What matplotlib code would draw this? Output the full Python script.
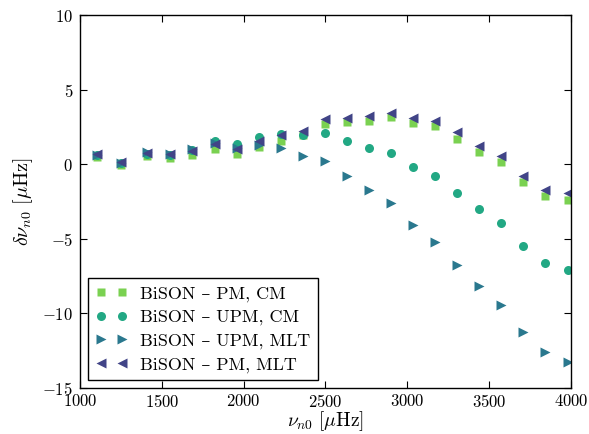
import matplotlib
matplotlib.use("Agg")
import matplotlib.pyplot as plt

plt.rcParams['font.family'] = ['cmr10', 'DejaVu Serif']
plt.rcParams['mathtext.fontset'] = 'cm'
plt.rcParams['axes.formatter.use_mathtext'] = True
plt.rcParams['axes.unicode_minus'] = True

# radial-mode frequencies (muHz)
freq = [1103.1, 1250.6, 1407.5, 1547.0, 1686.6, 1822.2, 1957.5, 2093.5, 2228.8,
        2362.8, 2496.2, 2629.7, 2764.2, 2899.0, 3033.8, 3168.6, 3303.6, 3439.0,
        3574.0, 3708.7, 3844.3, 3979.3]

pm_cm = [0.50, -0.05, 0.55, 0.40, 0.60, 1.00, 0.69, 1.14, 1.58, 1.95, 2.70, 2.81,
         2.92, 3.14, 2.76, 2.54, 1.69, 0.84, 0.13, -1.16, -2.10, -2.39]
upm_cm = [0.60, 0.05, 0.70, 0.60, 0.95, 1.58, 1.33, 1.80, 2.03, 1.96, 2.09, 1.54,
          1.09, 0.76, -0.20, -0.80, -1.92, -3.03, -3.95, -5.49, -6.60, -7.09]
upm_mlt = [0.65, 0.10, 0.80, 0.70, 1.00, 1.45, 1.10, 1.29, 1.07, 0.54, 0.24, -0.80,
           -1.76, -2.63, -4.06, -5.22, -6.74, -8.16, -9.41, -11.24, -12.62, -13.29]
pm_mlt = [0.67, 0.13, 0.76, 0.67, 0.87, 1.36, 1.02, 1.55, 1.98, 2.25, 3.03, 3.09,
          3.25, 3.45, 3.10, 2.92, 2.14, 1.24, 0.56, -0.76, -1.72, -1.94]

labels = ['BiSON – PM, CM', 'BiSON – UPM, CM', 'BiSON – UPM, MLT', 'BiSON – PM, MLT']
colors = ['#7ad151', '#22a884', '#2a788e', '#414487']
markers = ['s', 'o', '>', '<']
sizes = [6.0, 6.5, 7.0, 7.0]

fig = plt.figure(figsize=(5.89, 4.34), dpi=100)
ax = fig.add_axes([0.1358, 0.106, 0.8336, 0.8594])

for y, lab, c, m, s in zip([pm_cm, upm_cm, upm_mlt, pm_mlt], labels, colors, markers, sizes):
    ax.plot(freq, y, linestyle='none', marker=m, color=c, mec='none', ms=s, label=lab)

ax.set_xlim(1000, 4000)
ax.set_ylim(-15, 10)
ax.set_xticks([1000, 1500, 2000, 2500, 3000, 3500, 4000])
ax.set_yticks([-15, -10, -5, 0, 5, 10])
ax.tick_params(direction='in', top=True, right=True, length=5, width=0.8, labelsize=12, pad=5)
ax.tick_params(axis='x', pad=3.5)
for sp in ax.spines.values():
    sp.set_linewidth(1.0)

ax.set_xlabel(r'$\nu_{n0}\ [\mu\mathrm{Hz}]$', fontsize=14, labelpad=-0.5)
ax.set_ylabel(r'$\delta\nu_{n0}\ [\mu\mathrm{Hz}]$', fontsize=14.5, labelpad=5)

leg = ax.legend(loc='lower left', numpoints=2, fontsize=13, fancybox=False,
                edgecolor='black', framealpha=1, borderaxespad=0.45,
                handlelength=1.8, handletextpad=0.7, labelspacing=0.42,
                borderpad=0.4)
leg.get_frame().set_linewidth(1.0)

fig.savefig('out.png', dpi=100)
